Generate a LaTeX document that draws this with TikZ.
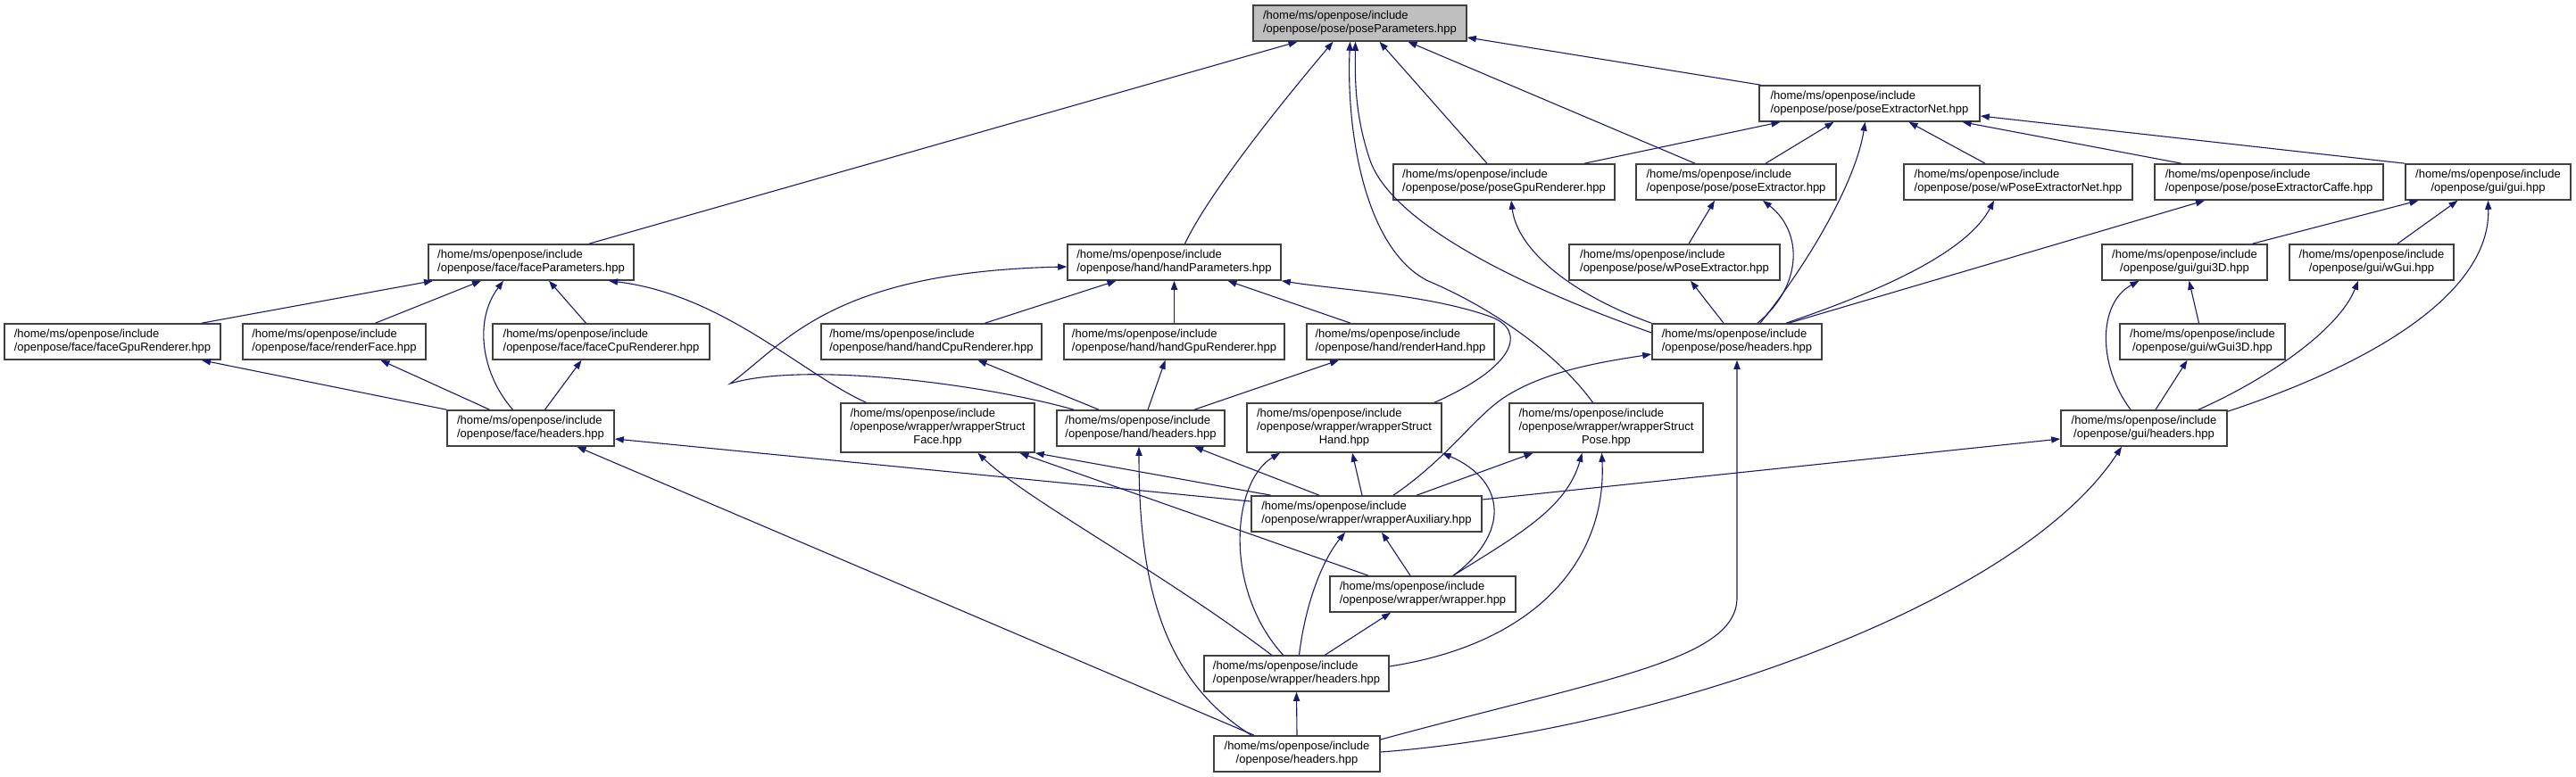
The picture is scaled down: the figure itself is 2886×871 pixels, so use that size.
\documentclass[tikz,border=0pt]{standalone}
\usepackage{fontspec}
\setmainfont{Liberation Sans}
\usetikzlibrary{arrows.meta,calc}
\definecolor{edgec}{HTML}{191970}
\definecolor{boxline}{HTML}{404040}
\definecolor{focusfill}{HTML}{BFBFBF}
\newcommand\tabL[1]{\begin{tabular}{@{}l@{}}#1\end{tabular}}
\newcommand\tabC[1]{\begin{tabular}{@{}c@{}}#1\end{tabular}}
\newcommand\mkbox[7]{%
  \pgfmathsetmacro\mkw{(#4-#2)*0.5}%
  \pgfmathsetmacro\mkh{(#5-#3)*0.5}%
  \node[filebox,#6,minimum width=\mkw pt,minimum height=\mkh pt] (#1) at ({(#2+#4)/2},{(#3+#5)/2}) {#7};}
\begin{document}
\begin{tikzpicture}[x=0.5pt,y=-0.5pt,
  filebox/.style={draw=boxline,line width=0.8pt,fill=white,inner sep=0pt,font=\fontsize{6.5}{7.5}\selectfont},
  focus/.style={fill=focusfill},
  plain/.style={},
  edge/.style={draw=edgec,line width=0.55pt,-{Triangle[length=5pt,width=3.6pt]}}]
\fill[white] (0,0) rectangle (2886,871);
\useasboundingbox (0,0) rectangle (2886,871);
% ---------- nodes ----------
\mkbox{PP}{1404}{6}{1643}{46}{focus}{\tabL{/home/ms/openpose/include\\/openpose/pose/poseParameters.hpp}}
\mkbox{PEN}{1971}{96}{2218}{136}{plain}{\tabL{/home/ms/openpose/include\\/openpose/pose/poseExtractorNet.hpp}}
\mkbox{FP}{480}{274}{710}{314}{plain}{\tabL{/home/ms/openpose/include\\/openpose/face/faceParameters.hpp}}
\mkbox{HP}{1196}{274}{1435}{314}{plain}{\tabL{/home/ms/openpose/include\\/openpose/hand/handParameters.hpp}}
\mkbox{PGR}{1561}{184}{1809}{224}{plain}{\tabL{/home/ms/openpose/include\\/openpose/pose/poseGpuRenderer.hpp}}
\mkbox{PE}{1833}{184}{2057}{224}{plain}{\tabL{/home/ms/openpose/include\\/openpose/pose/poseExtractor.hpp}}
\mkbox{WPEN}{2133}{184}{2389}{224}{plain}{\tabL{/home/ms/openpose/include\\/openpose/pose/wPoseExtractorNet.hpp}}
\mkbox{PEC}{2414}{184}{2670}{224}{plain}{\tabL{/home/ms/openpose/include\\/openpose/pose/poseExtractorCaffe.hpp}}
\mkbox{GUI}{2695}{184}{2880}{224}{plain}{\tabC{/home/ms/openpose/include\\/openpose/gui/gui.hpp}}
\mkbox{WPE}{1758}{274}{1994}{314}{plain}{\tabL{/home/ms/openpose/include\\/openpose/pose/wPoseExtractor.hpp}}
\mkbox{GUI3D}{2355}{274}{2540}{314}{plain}{\tabC{/home/ms/openpose/include\\/openpose/gui/gui3D.hpp}}
\mkbox{WGUI}{2565}{274}{2749}{314}{plain}{\tabC{/home/ms/openpose/include\\/openpose/gui/wGui.hpp}}
\mkbox{FGR}{5}{363}{247}{403}{plain}{\tabL{/home/ms/openpose/include\\/openpose/face/faceGpuRenderer.hpp}}
\mkbox{RF}{272}{363}{477}{403}{plain}{\tabL{/home/ms/openpose/include\\/openpose/face/renderFace.hpp}}
\mkbox{FCR}{552}{363}{795}{403}{plain}{\tabL{/home/ms/openpose/include\\/openpose/face/faceCpuRenderer.hpp}}
\mkbox{HCR}{920}{363}{1167}{403}{plain}{\tabL{/home/ms/openpose/include\\/openpose/hand/handCpuRenderer.hpp}}
\mkbox{HGR}{1192}{363}{1439}{403}{plain}{\tabL{/home/ms/openpose/include\\/openpose/hand/handGpuRenderer.hpp}}
\mkbox{RH}{1464}{363}{1674}{403}{plain}{\tabL{/home/ms/openpose/include\\/openpose/hand/renderHand.hpp}}
\mkbox{POSEH}{1851}{363}{2041}{403}{plain}{\tabL{/home/ms/openpose/include\\/openpose/pose/headers.hpp}}
\mkbox{WGUI3D}{2375}{363}{2560}{403}{plain}{\tabC{/home/ms/openpose/include\\/openpose/gui/wGui3D.hpp}}
\mkbox{FH}{501}{460}{688}{500}{plain}{\tabL{/home/ms/openpose/include\\/openpose/face/headers.hpp}}
\mkbox{WSF}{942}{452}{1159}{507}{plain}{\tabL{/home/ms/openpose/include\\/openpose/wrapper/wrapperStruct\\\multicolumn{1}{@{}c@{}}{Face.hpp}}}
\mkbox{HH}{1184}{460}{1372}{500}{plain}{\tabL{/home/ms/openpose/include\\/openpose/hand/headers.hpp}}
\mkbox{WSH}{1397}{452}{1615}{507}{plain}{\tabL{/home/ms/openpose/include\\/openpose/wrapper/wrapperStruct\\\multicolumn{1}{@{}c@{}}{Hand.hpp}}}
\mkbox{WSP}{1691}{452}{1908}{507}{plain}{\tabL{/home/ms/openpose/include\\/openpose/wrapper/wrapperStruct\\\multicolumn{1}{@{}c@{}}{Pose.hpp}}}
\mkbox{GUIH}{2309}{460}{2495}{500}{plain}{\tabC{/home/ms/openpose/include\\/openpose/gui/headers.hpp}}
\mkbox{WAUX}{1402}{556}{1660}{596}{plain}{\tabL{/home/ms/openpose/include\\/openpose/wrapper/wrapperAuxiliary.hpp}}
\mkbox{WRAP}{1490}{646}{1698}{686}{plain}{\tabL{/home/ms/openpose/include\\/openpose/wrapper/wrapper.hpp}}
\mkbox{WH}{1349}{735}{1556}{775}{plain}{\tabL{/home/ms/openpose/include\\/openpose/wrapper/headers.hpp}}
\mkbox{OPH}{1360}{825}{1546}{865}{plain}{\tabC{/home/ms/openpose/include\\/openpose/headers.hpp}}
% ---------- edges (child -> included file) ----------
% into poseParameters
\draw[edge] ($(FP.north)+(65,0)$) -- ($(PP.south)+(-70,0)$);
\draw[edge] ($(HP.north)+(12,0)$) .. controls (1355,215) and (1440,110) .. ($(PP.south)+(-30,0)$);
\draw[edge] ($(WSP.north)+(-15,0)$) .. controls (1740,390) and (1660,340) .. (1600,315) .. controls (1530,280) and (1508,150) .. ($(PP.south)+(-11,0)$);
\draw[edge] ($(POSEH.west)+(0,-10)$) .. controls (1700,320) and (1560,250) .. (1535,180) .. controls (1518,130) and (1518,90) .. ($(PP.south)+(-5,0)$);
\draw[edge] ($(PGR.north)+(-19,0)$) -- ($(PP.south)+(22,0)$);
\draw[edge] ($(PE.north)+(-46,0)$) -- ($(PP.south)+(54,0)$);
\draw[edge] ($(PEN.north)+(-122,0)$) -- ($(PP.east)+(0,16)$);
% into poseExtractorNet
\draw[edge] ($(PGR.north)+(90,0)$) -- ($(PEN.south)+(-100,0)$);
\draw[edge] ($(PE.north)+(33,0)$) -- ($(PEN.south)+(-40,0)$);
\draw[edge] ($(POSEH.north)+(26,0)$) .. controls (2030,290) and (2080,200) .. ($(PEN.south)+(-5,0)$);
\draw[edge] ($(WPEN.north)+(-37,0)$) -- ($(PEN.south)+(44,0)$);
\draw[edge] ($(PEC.north)+(-98,0)$) -- ($(PEN.south)+(104,0)$);
\draw[edge] (GUI.north west) -- ($(PEN.east)+(0,14)$);
% pose level
\draw[edge] (POSEH.north west) .. controls (1760,330) and (1700,280) .. ($(PGR.south)+(8,0)$);
\draw[edge] ($(WPE.north)+(16,0)$) -- ($(PE.south)+(-24,0)$);
\draw[edge] ($(POSEH.north)+(-15,0)$) -- ($(WPE.south)+(18,0)$);
\draw[edge] ($(POSEH.north)+(23,0)$) .. controls (2020,320) and (2020,260) .. ($(PE.south)+(30,0)$);
\draw[edge] ($(POSEH.north)+(55,0)$) .. controls (2080,335) and (2200,290) .. ($(WPEN.south)+(-27,0)$);
\draw[edge] ($(POSEH.north)+(58,0)$) -- ($(PEC.south)+(-72,0)$);
% gui
\draw[edge] ($(GUI3D.north)+(76,0)$) -- ($(GUI.south)+(-78,0)$);
\draw[edge] ($(WGUI.north)+(29,0)$) -- ($(GUI.south)+(-34,0)$);
\draw[edge] ($(GUIH.north east)+(0,2)$) .. controls (2680,400) and (2790,320) .. (GUI.south);
\draw[edge] ($(WGUI3D.north)+(-4,0)$) -- ($(GUI3D.south)+(5,0)$);
\draw[edge] ($(GUIH.north)+(-15,0)$) .. controls (2350,410) and (2350,340) .. ($(GUI3D.south)+(-51,0)$);
\draw[edge] ($(GUIH.north)+(13,0)$) -- ($(WGUI3D.south)+(-17,0)$);
\draw[edge] ($(GUIH.north)+(61,0)$) .. controls (2540,425) and (2620,370) .. ($(WGUI.south)+(-15,0)$);
% face
\draw[edge] ($(FGR.north)+(100,0)$) -- ($(FP.south)+(-110,0)$);
\draw[edge] ($(RF.north)+(46,0)$) -- ($(FP.south)+(-56,0)$);
\draw[edge] ($(FCR.north)+(-17,0)$) -- ($(FP.south)+(20,0)$);
\draw[edge] ($(FH.north)+(-20,0)$) .. controls (540,420) and (530,360) .. ($(FP.south)+(-31,0)$);
\draw[edge] (FH.north west) -- ($(FGR.south)+(100,0)$);
\draw[edge] ($(FH.north)+(-46,0)$) -- ($(RF.south)+(52,0)$);
\draw[edge] ($(FH.north)+(16,0)$) -- ($(FCR.south)+(-22,0)$);
\draw[edge] ($(WSF.north)+(-80,0)$) .. controls (900,420) and (810,330) .. ($(FP.south)+(87,0)$);
% hand
\draw[edge] ($(HCR.north)+(60,0)$) -- ($(HP.south)+(-65,0)$);
\draw[edge] (HGR.north) -- (HP.south);
\draw[edge] ($(RH.north)+(-56,0)$) -- ($(HP.south)+(60,0)$);
\draw[edge] ($(HH.north)+(-47,0)$) -- ($(HCR.south)+(52,0)$);
\draw[edge] ($(HH.north)+(8,0)$) -- ($(HGR.south)+(-10,0)$);
\draw[edge] ($(HH.north)+(60,0)$) -- ($(RH.south)+(-69,0)$);
\draw[edge] ($(HH.north)+(-75,0)$) .. controls (1100,430) and (900,405) .. (818,430) .. controls (880,385) and (930,305) .. ($(HP.west)+(0,5)$);
\draw[edge] ($(WSH.north)+(101,0)$) .. controls (1700,410) and (1710,370) .. (1670,355) .. controls (1600,330) and (1500,325) .. (HP.south east);
% wrapper
\draw[edge] ($(WAUX.west)+(0,-14)$) -- ($(FH.east)+(0,12)$);
\draw[edge] ($(WAUX.north)+(-107,0)$) -- (WSF.south east);
\draw[edge] ($(WRAP.north)+(-61,0)$) -- ($(WSF.south)+(92,0)$);
\draw[edge] ($(WH.north)+(-28,0)$) .. controls (1300,640) and (1150,560) .. ($(WSF.south)+(45,0)$);
\draw[edge] ($(WAUX.north)+(-53,0)$) -- ($(HH.south)+(60,0)$);
\draw[edge] ($(OPH.north)+(-51,0)$) .. controls (1300,760) and (1276,650) .. ($(HH.south)+(-2,0)$);
\draw[edge] ($(OPH.north)+(-48,0)$) -- ($(FH.south)+(52,0)$);
\draw[edge] ($(WAUX.north)+(-5,0)$) -- ($(WSH.south)+(9,0)$);
\draw[edge] ($(WH.north)+(-15,0)$) .. controls (1370,660) and (1380,540) .. ($(WSH.south)+(-72,0)$);
\draw[edge] ($(WRAP.north)+(34,0)$) .. controls (1690,600) and (1690,540) .. (WSH.south east);
\draw[edge] ($(WAUX.north)+(56,0)$) -- ($(WSP.south)+(-82,0)$);
\draw[edge] ($(WRAP.north)+(34,0)$) .. controls (1700,600) and (1755,570) .. ($(WSP.south)+(-27,0)$);
\draw[edge] ($(WH.east)+(0,-8)$) .. controls (1730,720) and (1800,620) .. ($(WSP.south)+(-5,0)$);
\draw[edge] ($(WAUX.north)+(30,0)$) .. controls (1620,515) and (1650,470) .. (1683,447) .. controls (1730,415) and (1800,405) .. ($(POSEH.west)+(0,14)$);
\draw[edge] ($(WAUX.east)+(0,-16)$) -- ($(GUIH.west)+(0,12)$);
\draw[edge] ($(WH.north)+(3,0)$) .. controls (1462,680) and (1480,630) .. ($(WAUX.south)+(-24,0)$);
\draw[edge] ($(WRAP.north)+(-14,0)$) -- ($(WAUX.south)+(17,0)$);
\draw[edge] ($(WH.north)+(32,0)$) -- ($(WRAP.south)+(-36,0)$);
\draw[edge] (OPH.north) -- (WH.south);
\draw[edge] ($(OPH.east)+(0,-16)$) .. controls (1800,760) and (1946,740) .. (1946,670) -- (POSEH.south);
\draw[edge] ($(OPH.east)+(0,-2)$) .. controls (1850,820) and (2260,680) .. ($(GUIH.south)+(-25,0)$);
\end{tikzpicture}
\end{document}
